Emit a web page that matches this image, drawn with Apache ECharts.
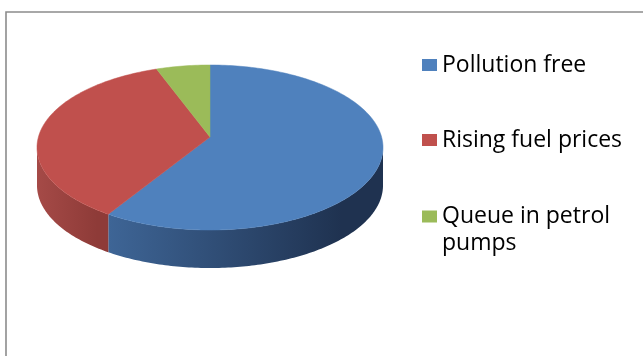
<!DOCTYPE html>
<html>
<head>
<meta charset="utf-8">
<script src="https://cdn.jsdelivr.net/npm/echarts@6/dist/echarts.min.js"></script>
<style>
  html, body { margin: 0; padding: 0; background: #ffffff; }
  #chart { width: 643px; height: 356px; }
</style>
</head>
<body>
<div id="chart"></div>
<script>
// ---- data ----
var categories = ['Pollution free', 'Rising fuel prices', 'Queue in petrol pumps'];
var values = [60, 35, 5];
var topColors = ['#4f81bd', '#c0504d', '#9bbb59'];
var sideLight = ['#3e6596', '#a54a47', '#7c9547'];
var sideDark = ['#1f3250', '#8e3b38', '#5f7236'];

// ---- geometry (layout only) ----
var CX = 210, CY = 147.5, RX = 173, RY = 82.5, DEPTH = 38;
var APEX_Y = 137;

var total = values.reduce(function (a, b) { return a + b; }, 0);

function rim(t, dy) {
  var r = t * Math.PI / 180;
  return [CX + RX * Math.sin(r), CY - RY * Math.cos(r) + (dy || 0)];
}

function arcPts(a, b, dy) {
  var pts = [];
  var n = Math.max(2, Math.ceil(Math.abs(b - a) / 1));
  for (var k = 0; k <= n; k++) pts.push(rim(a + (b - a) * k / n, dy));
  return pts;
}

function makeRender(idx) {
  return function (params, api) {
    var before = 0;
    for (var j = 0; j < idx; j++) before += values[j];
    var v = api.value(0);
    var a = before / total * 360;
    var b = (before + v) / total * 360;
    var children = [];
    var sa = Math.max(a, 90), sb = Math.min(b, 270);
    if (sb > sa) {
      var top = arcPts(sa, sb, 0);
      var bot = arcPts(sa, sb, DEPTH).reverse();
      var xs = top.map(function (p) { return p[0]; });
      var xmin = Math.min.apply(null, xs), xmax = Math.max.apply(null, xs);
      children.push({
        type: 'polygon',
        shape: { points: top.concat(bot) },
        style: {
          fill: new echarts.graphic.LinearGradient(xmin, 0, xmin + (xmax - xmin) * 0.85, 0, [
            { offset: 0, color: sideLight[idx] },
            { offset: 1, color: sideDark[idx] }
          ], true),
          stroke: null
        }
      });
    }
    var face = [[CX, APEX_Y]].concat(arcPts(a, b, 0));
    children.push({
      type: 'polygon',
      shape: { points: face },
      style: { fill: topColors[idx], stroke: topColors[idx], lineWidth: 0.5 }
    });
    return { type: 'group', children: children };
  };
}

var series = categories.map(function (name, i) {
  return {
    type: 'custom',
    name: name,
    coordinateSystem: 'none',
    itemStyle: { color: topColors[i] },
    data: [[values[i]]],
    renderItem: makeRender(i),
    silent: true,
    animation: false
  };
});

var FONT = 'Open Sans';
var FS = 23;

var chart = echarts.init(document.getElementById('chart'), null, { renderer: 'canvas' });
chart.setOption({
  animation: false,
  backgroundColor: '#ffffff',
  graphic: [{
    type: 'rect',
    shape: { x: 6, y: 12, width: 700, height: 400 },
    style: { fill: 'none', stroke: '#8c8c8c', lineWidth: 1.6 },
    silent: true
  }],
  legend: [{
    orient: 'vertical',
    left: 422,
    top: 51.5,
    padding: 0,
    icon: 'rect',
    itemWidth: 15,
    itemHeight: 12,
    itemGap: 48,
    selectedMode: false,
    data: categories.slice(0, 2),
    textStyle: { fontFamily: FONT, fontSize: FS, color: '#000000', lineHeight: 27 }
  }, {
    orient: 'vertical',
    left: 422,
    top: 176,
    padding: 0,
    icon: 'rect',
    itemWidth: 15,
    itemHeight: 12,
    selectedMode: false,
    data: [categories[2]],
    formatter: function (name) { return '\nQueue in petrol\npumps'; },
    textStyle: { fontFamily: FONT, fontSize: FS, color: '#000000', lineHeight: 27 }
  }],
  series: series
});
</script>
</body>
</html>
